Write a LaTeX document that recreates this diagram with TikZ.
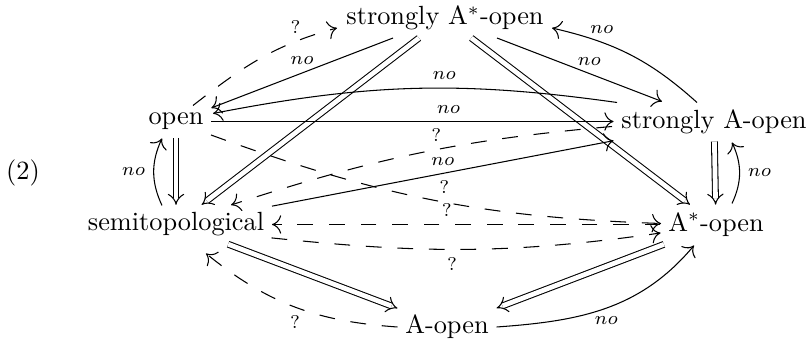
\documentclass[tikz,border=0pt]{standalone}
\usetikzlibrary{arrows.meta}
\begin{document}
\begin{tikzpicture}[x=0.3802pt,y=0.3802pt,
  obj/.style={inner sep=3pt, outer sep=0pt},
  lbl/.style={font=\scriptsize, inner sep=3pt},
  arr/.style={-{To[length=3.5pt,width=7pt]}},
  dbl/.style={double, double distance=1.8pt, -{Implies}},
  dsh/.style={arr, dash pattern=on 6pt off 6pt},
]
\useasboundingbox (0,0) rectangle (812,-342);
% objects
\node[obj] (sAs)  at (445,-18)  {strongly A$^*$-open};
\node[obj] (open) at (176,-121.5) {open};
\node[obj] (sA)   at (714,-121.5) {strongly A-open};
\node[obj] (semi) at (176,-224.5) {semitopological};
\node[obj] (As)   at (716,-224.5) {A$^*$-open};
\node[obj] (Ao)   at (447,-327) {A-open};
\node (num) at (23,-173) {(2)};
% implications (double arrows)
\draw[dbl] (open) -- (semi);
\draw[dbl] (sA) -- (As);
\draw[dbl] (sAs) -- (semi);
\draw[dbl] (sAs) -- (As);
\draw[dbl] (semi) -- (Ao);
\draw[dbl] (As) -- (Ao);
% non-implications
\draw[arr] (sAs) -- node[lbl,pos=0.5,above]{$no$} (open);
\draw[arr] (sAs) -- node[lbl,pos=0.56,above]{$no$} (sA);
\draw[arr] (open) -- node[lbl,pos=0.59,above]{$no$} (sA);
\draw[arr] (semi) -- node[lbl,pos=0.5,above]{$no$} (sA);
\draw[arr] ([shift={(-14,19)}]semi.center) to[out=115,in=245] node[lbl,left]{$no$} ([shift={(-14,-17)}]open.center);
\draw[arr] ([shift={(16,21)}]As.center) to[out=65,in=-65] node[lbl,right]{$no$} ([shift={(18,-21)}]sA.center);
\draw[arr] (Ao.east) to[out=4,in=230] node[lbl,pos=0.5,below]{$no$} ([shift={(-22,-21)}]As.center);
\draw[arr] ([shift={(-97,19)}]sA.center) to[out=172,in=11] node[lbl,pos=0.42,above]{$no$} ([shift={(37,8)}]open.center);
\draw[arr] ([shift={(-17,19)}]sA.center) to[out=138,in=-13] node[lbl,pos=0.7,above]{$no$} ([shift={(107,-10)}]sAs.center);
% open questions (dashed)
\draw[dsh] ([shift={(17,16)}]open.center) to[out=38,in=195] node[lbl,pos=0.75,above]{?} ([shift={(-108,-10)}]sAs.center);
\draw[dsh] ([shift={(-102,-5)}]sA.center) to[out=185,in=18] node[lbl,pos=0.45,above]{?} ([shift={(55,19.5)}]semi.center);
\draw[dsh] ([shift={(35,-13.5)}]open.center) to[out=-20,in=178] node[lbl,pos=0.53,above]{?} ([shift={(-55,1)}]As.center);
\draw[dsh] (As) -- node[lbl,pos=0.55,above]{?} (semi);
\draw[dsh] ([shift={(95.5,-13.4)}]semi.center) to[out=-6,in=188] node[lbl,pos=0.46,below]{?} ([shift={(-55.4,-8.5)}]As.center);
\draw[dsh] (Ao.west) to[out=176,in=-39] node[lbl,pos=0.5,below]{?} ([shift={(30,-29)}]semi.center);
\end{tikzpicture}
\end{document}
